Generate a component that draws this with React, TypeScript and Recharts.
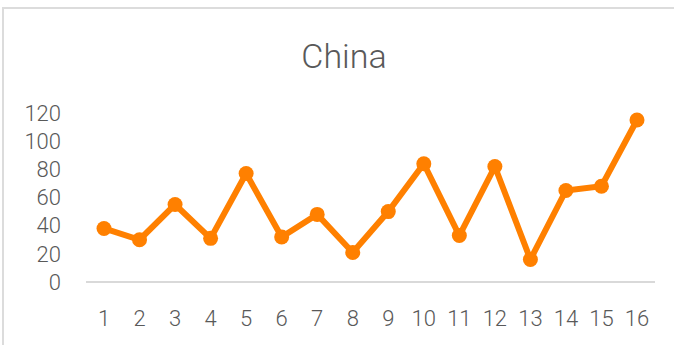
import { LineChart, Line, XAxis, YAxis } from 'recharts';

const categories = ['1', '2', '3', '4', '5', '6', '7', '8', '9', '10', '11', '12', '13', '14', '15', '16'];
const chinaValues = [38, 30, 55, 31, 77, 32, 48, 21, 50, 84, 33, 82, 16, 65, 68, 115];
const yTicks = [0, 20, 40, 60, 80, 100, 120];

const data = categories.map((c, i) => ({ name: c, China: chinaValues[i] }));

const ORANGE = '#ff8000';
const TEXT = '#595959';

export default function App() {
  return (
    <div
      style={{
        position: 'absolute',
        left: 0,
        top: 0,
        width: 674,
        height: 345,
        overflow: 'hidden',
        background: '#fff',
        fontFamily: 'Roboto, sans-serif',
      }}
    >
      {/* chart frame, only top/left visible in the crop */}
      <div
        style={{
          position: 'absolute',
          left: 2,
          top: 7,
          width: 720,
          height: 400,
          border: '2px solid #dcdcdc',
        }}
      />
      <div
        style={{
          position: 'absolute',
          left: 0,
          top: 39,
          width: 688,
          textAlign: 'center',
          fontSize: 34,
          lineHeight: '34px',
          fontWeight: 300,
          color: TEXT,
        }}
      >
        China
      </div>
      <div style={{ position: 'absolute', left: 0, top: 0 }}>
        <LineChart width={674} height={345} data={data} margin={{ top: 113, right: 19, bottom: 23, left: 0 }}>
          <XAxis
            dataKey="name"
            height={40}
            padding={{ left: 18, right: 18 }}
            axisLine={{ stroke: '#d9d9d9', strokeWidth: 2 }}
            tickLine={false}
            tickSize={0}
            tickMargin={28}
            tick={{ fontSize: 22, fill: TEXT, fontWeight: 300, fontFamily: 'Roboto' }}
            interval={0}
          />
          <YAxis
            width={86}
            domain={[0, 120]}
            ticks={yTicks}
            axisLine={false}
            tickLine={false}
            tickSize={0}
            tickMargin={25}
            tick={{ fontSize: 22, fill: TEXT, fontWeight: 300, fontFamily: 'Roboto' }}
            interval={0}
          />
          <Line
            type="linear"
            dataKey="China"
            stroke={ORANGE}
            strokeWidth={6}
            dot={{ r: 7.5, fill: ORANGE, stroke: 'none' }}
            activeDot={false}
            isAnimationActive={false}
          />
        </LineChart>
      </div>
    </div>
  );
}
